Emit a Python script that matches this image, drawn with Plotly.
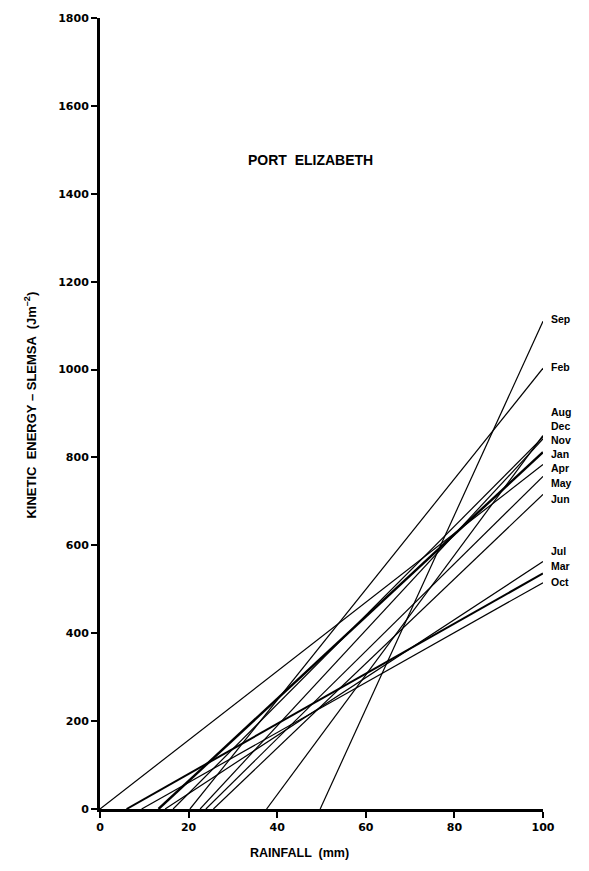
import plotly.graph_objects as go

# ---- data ----
months = ["Sep", "Feb", "Aug", "Dec", "Nov", "Jan", "Apr", "May", "Jun", "Jul", "Mar", "Oct"]
# rainfall (mm) at which kinetic energy reaches zero
intercepts = [49.7, 20.3, 37.6, 16.5, 22.6, 13.2, 0.0, 23.9, 25.6, 14.7, 6.0, 9.4]
# kinetic energy (J m-2) at 100 mm rainfall
end_values = [1110, 1003, 850, 846, 842, 812, 784, 757, 716, 563, 536, 515]
# label anchor heights (J m-2) beside the right end of each line
label_y = [1114, 1005, 903, 872, 840, 808, 775, 741, 706, 588, 554, 516]
x_end = 100

x_ticks = [0, 20, 40, 60, 80, 100]
y_ticks = [0, 200, 400, 600, 800, 1000, 1200, 1400, 1600, 1800]

line_widths = {"Jan": 2.4, "Mar": 2.0}

fig = go.Figure()
for m, c, v in zip(months, intercepts, end_values):
    fig.add_trace(go.Scatter(
        x=[c, x_end], y=[0, v], mode="lines",
        line=dict(color="black", width=line_widths.get(m, 1.2)),
        hoverinfo="skip", showlegend=False,
    ))

annotations = []
for m, ly in zip(months, label_y):
    annotations.append(dict(
        x=x_end, y=ly, xref="x", yref="y", text=m, showarrow=False,
        xanchor="left", yanchor="middle", xshift=6,
        font=dict(family="Liberation Sans", size=10.5, color="black", weight="bold"),
    ))

annotations.append(dict(
    x=47.6, y=1478, xref="x", yref="y", text="PORT  ELIZABETH", showarrow=False,
    xanchor="center", yanchor="middle",
    font=dict(family="Liberation Sans", size=14, color="black", weight="bold"),
))
annotations.append(dict(
    x=0.45, y=-0.056, xref="paper", yref="paper", text="RAINFALL  (mm)", showarrow=False,
    xanchor="center", yanchor="middle",
    font=dict(family="Liberation Sans", size=12.5, color="black", weight="bold"),
))
annotations.append(dict(
    x=-0.158, y=0.51, xref="paper", yref="paper",
    text="KINETIC  ENERGY – SLEMSA  (Jm<sup>–2</sup>)", showarrow=False,
    textangle=-90, xanchor="center", yanchor="middle",
    font=dict(family="Liberation Sans", size=13, color="black", weight="bold"),
))

tick_font = dict(family="DejaVu Sans", size=11, color="black", weight="bold")

fig.update_layout(
    width=589, height=871,
    margin=dict(l=100, r=46, t=12, b=62),
    paper_bgcolor="white", plot_bgcolor="white",
    showlegend=False, hovermode=False,
    annotations=annotations,
    xaxis=dict(
        range=[0, 100], tickmode="array", tickvals=x_ticks,
        ticktext=[str(t) for t in x_ticks],
        showgrid=False, zeroline=False,
        showline=True, linecolor="black", linewidth=3,
        ticks="outside", ticklen=6, tickwidth=2, tickcolor="black",
        tickfont=tick_font, fixedrange=True,
    ),
    yaxis=dict(
        range=[0, 1800], tickmode="array", tickvals=y_ticks,
        ticktext=[str(t) for t in y_ticks],
        showgrid=False, zeroline=False,
        showline=True, linecolor="black", linewidth=3,
        ticks="outside", ticklen=6, tickwidth=2, tickcolor="black",
        tickfont=tick_font, fixedrange=True,
    ),
)

fig.write_html("out.html")
